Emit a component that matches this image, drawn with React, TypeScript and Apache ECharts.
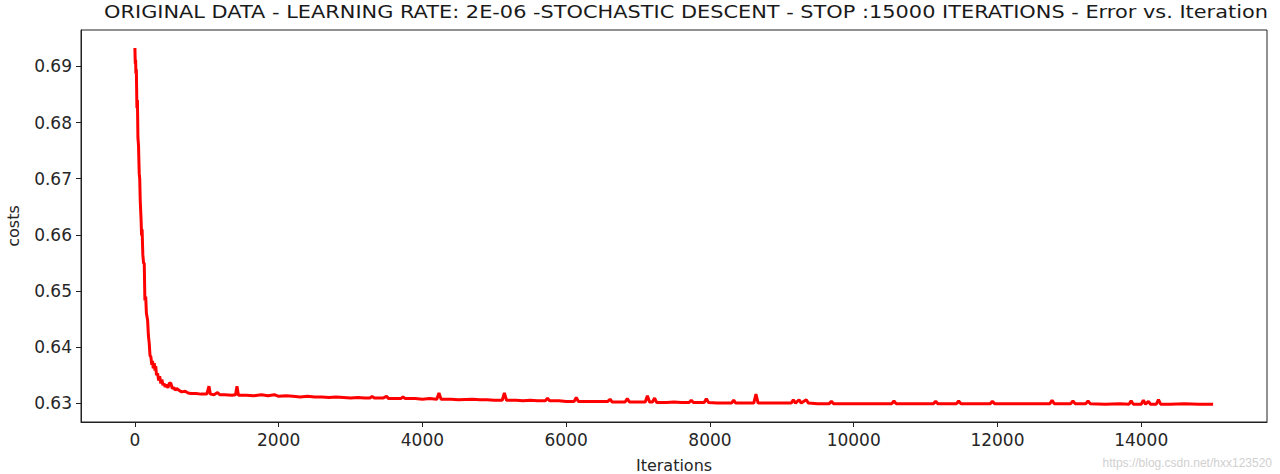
import React, { useEffect, useRef } from "react";
import * as echarts from "echarts";

const TITLE =
  "ORIGINAL DATA - LEARNING RATE: 2E-06 -STOCHASTIC DESCENT - STOP :15000 ITERATIONS - Error vs. Iteration";
const X_LABEL = "Iterations";
const Y_LABEL = "costs";
const WATERMARK = "https://blog.csdn.net/hxx123520";

const xTicks = [0, 2000, 4000, 6000, 8000, 10000, 12000, 14000];
const yTicks = [0.63, 0.64, 0.65, 0.66, 0.67, 0.68, 0.69];

const iterations = [
  0, 5, 10, 14, 20, 28, 35, 42, 50, 60, 67, 74, 85, 93, 100, 110, 120, 130, 139, 150,
  160, 177, 188, 199, 210, 223, 235, 245, 255, 269, 280, 290, 300, 316, 330, 345, 360, 375, 390, 404,
  420, 440, 460, 480, 501, 520, 540, 560, 580, 613, 650, 700, 740, 780, 850, 920, 1000, 1030, 1050, 1100,
  1150, 1180, 1250, 1350, 1400, 1420, 1440, 1550, 1650, 1760, 1850, 1940,
  2000, 2100, 2200, 2300, 2400, 2500, 2600, 2700, 2800, 2900, 3000, 3100, 3200, 3270, 3300, 3330, 3450, 3500, 3530, 3700,
  3730, 3760, 3900, 4000, 4100, 4200, 4230, 4260, 4400, 4500, 4700, 4800, 4900, 5000, 5110, 5140, 5170, 5300, 5400, 5500,
  5600, 5710, 5740, 5770, 5900, 6000, 6110, 6140, 6170, 6300, 6400, 6580, 6610, 6640, 6820, 6850, 6880, 7000, 7100, 7130,
  7160, 7200, 7230, 7260, 7400, 7500, 7600, 7710, 7740, 7770, 7920, 7950, 7980, 8100, 8300, 8330, 8360, 8500, 8610, 8640,
  8670, 8800, 9000, 9130, 9160, 9190, 9240, 9270, 9340, 9370, 9500, 9660, 9690, 9720, 9900, 10100, 10300, 10530, 10560, 10590,
  10800, 11110, 11140, 11170, 11430, 11460, 11490, 11700, 11900, 11930, 11960, 12200, 12500, 12730, 12760, 12790, 13020, 13050, 13080, 13230,
  13260, 13290, 13500, 13700, 13830, 13860, 13890, 14000, 14030, 14060, 14100, 14130, 14210, 14240, 14270, 14400, 14600, 14800, 15000,
];

const costs = [
  0.6933, 0.6905, 0.6912, 0.6887, 0.6895, 0.6826, 0.684, 0.6773, 0.676, 0.6709, 0.67, 0.6661, 0.663, 0.6599, 0.661, 0.6565, 0.655, 0.6549, 0.6483, 0.649,
  0.646, 0.6447, 0.642, 0.6407, 0.6385, 0.6382, 0.6368, 0.6375, 0.6362, 0.6371, 0.6358, 0.6366, 0.635, 0.6353, 0.634, 0.6348, 0.6335, 0.6342, 0.6332, 0.6335,
  0.6329, 0.6333, 0.6327, 0.6336, 0.6335, 0.6326, 0.6328, 0.6323, 0.6326, 0.6323, 0.632, 0.6321, 0.6318, 0.6317, 0.6317, 0.6316, 0.6316, 0.633, 0.6316, 0.6315,
  0.6319, 0.6315, 0.6315, 0.6314, 0.6315, 0.633, 0.6314, 0.6314, 0.6313, 0.6315, 0.6313, 0.6315,
  0.6312, 0.6313, 0.6312, 0.6311, 0.6312, 0.6311, 0.6311, 0.631, 0.6311, 0.631, 0.6309, 0.631, 0.6309, 0.6309, 0.6312, 0.6309, 0.6309, 0.6312, 0.6308, 0.6308,
  0.6311, 0.6308, 0.6308, 0.6307, 0.6308, 0.6307, 0.6318, 0.6307, 0.6307, 0.6306, 0.6307, 0.6306, 0.6306, 0.6305, 0.6305, 0.6318, 0.6305, 0.6305, 0.6304, 0.6305,
  0.6304, 0.6304, 0.6309, 0.6304, 0.6304, 0.6303, 0.6303, 0.631, 0.6303, 0.6303, 0.6303, 0.6303, 0.6307, 0.6302, 0.6302, 0.6308, 0.6302, 0.6302, 0.6302, 0.6313,
  0.6302, 0.6302, 0.6309, 0.6301, 0.6301, 0.6302, 0.6301, 0.6301, 0.6305, 0.6301, 0.6301, 0.6308, 0.6301, 0.63, 0.63, 0.6305, 0.63, 0.63, 0.63, 0.6316,
  0.63, 0.63, 0.63, 0.63, 0.6306, 0.63, 0.6306, 0.63, 0.6306, 0.63, 0.6299, 0.6299, 0.6303, 0.6299, 0.6299, 0.6299, 0.6299, 0.6299, 0.6304, 0.6299,
  0.6299, 0.6299, 0.6303, 0.6299, 0.6299, 0.6304, 0.6299, 0.6299, 0.6299, 0.6303, 0.6299, 0.6299, 0.6299, 0.6299, 0.6305, 0.6299, 0.6299, 0.6304, 0.6299, 0.6299,
  0.6304, 0.6299, 0.6298, 0.6299, 0.6298, 0.6304, 0.6298, 0.6298, 0.6305, 0.6298, 0.6303, 0.6298, 0.6298, 0.6306, 0.6298, 0.6298, 0.6299, 0.6298, 0.6298,
];

export default function App() {
  const ref = useRef<HTMLDivElement>(null);

  useEffect(() => {
    if (!ref.current) return;
    const chart = echarts.init(ref.current, null, { renderer: "svg" });
    const data = iterations.map((it, i) => [it, costs[i]]);
    const axisText = { color: "#262626", fontSize: 17, fontFamily: "DejaVu Sans" };
    const nameText = { color: "#262626", fontSize: 16, fontFamily: "DejaVu Sans" };
    chart.setOption({
      animation: false,
      backgroundColor: "#ffffff",
      grid: {
        left: 81,
        right: 13,
        top: 30,
        bottom: 52,
        show: true,
        borderColor: "#222",
        borderWidth: 1,
        containLabel: false,
        outerBoundsMode: "none",
      },
      xAxis: {
        type: "value",
        min: -750,
        max: 15750,
        name: X_LABEL,
        nameLocation: "middle",
        nameGap: 35,
        nameTextStyle: nameText,
        splitLine: { show: false },
        axisLine: { show: true, onZero: false, lineStyle: { color: "#222" } },
        axisTick: { show: true, length: 5, lineStyle: { color: "#222" }, customValues: xTicks },
        axisLabel: {
          ...axisText,
          margin: 9,
          customValues: xTicks,
          formatter: (v: number) => String(v),
        },
      },
      yAxis: {
        type: "value",
        min: 0.62663,
        max: 0.6965,
        name: Y_LABEL,
        nameLocation: "middle",
        nameGap: 60,
        nameTextStyle: nameText,
        splitLine: { show: false },
        axisLine: { show: true, onZero: false, lineStyle: { color: "#222" } },
        axisTick: { show: true, length: 5, lineStyle: { color: "#222" }, customValues: yTicks },
        axisLabel: {
          ...axisText,
          margin: 9,
          customValues: yTicks,
          formatter: (v: number) => v.toFixed(2),
        },
      },
      graphic: [
        {
          type: "text",
          x: 686,
          y: 12,
          scaleX: 1.16,
          style: {
            text: TITLE,
            fill: "#1a1a1a",
            font: "18px 'DejaVu Sans'",
            align: "center",
            verticalAlign: "middle",
          },
        },
        {
          type: "text",
          right: 8,
          top: 457,
          style: { text: WATERMARK, fill: "#d0d0d0", font: "12px Arial" },
        },
      ],
      series: [
        {
          type: "line",
          data,
          showSymbol: false,
          lineStyle: { color: "#ff0000", width: 3 },
          itemStyle: { color: "#ff0000" },
        },
      ],
    });
    return () => chart.dispose();
  }, []);

  return (
    <div
      ref={ref}
      style={{ position: "fixed", left: 0, top: 0, width: 1280, height: 474 }}
    />
  );
}
